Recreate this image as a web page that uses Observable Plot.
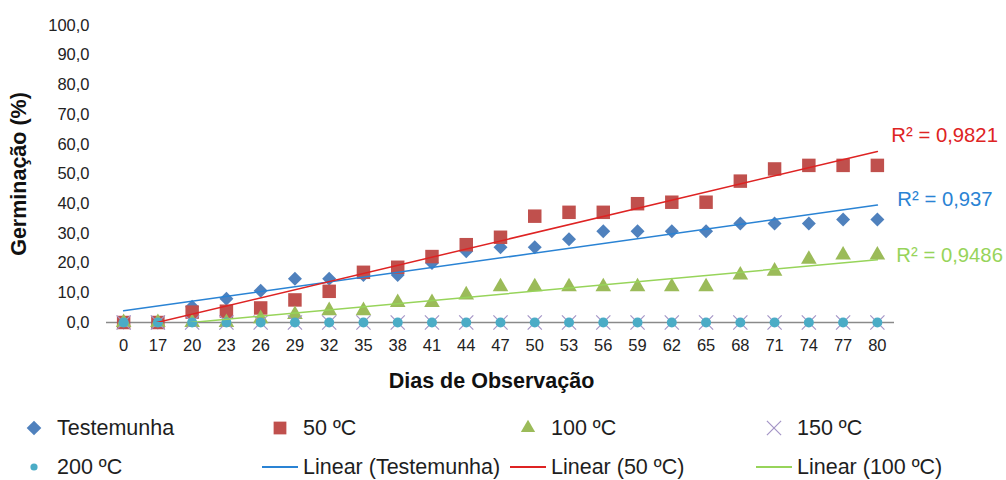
<!DOCTYPE html>
<html><head><meta charset="utf-8">
<script src="https://cdn.jsdelivr.net/npm/d3@7"></script>
<script src="https://cdn.jsdelivr.net/npm/@observablehq/plot@0.6"></script>
<style>
body{margin:0;background:#fff;font-family:"Liberation Sans",Arial,sans-serif;}
#wrap{position:relative;width:1006px;height:480px;overflow:hidden;background:#fff}
#legend{position:absolute;left:0;top:400px;width:1006px;height:80px}
.item{position:absolute;display:flex;align-items:center;font-size:21.5px;color:#1e1e1e;height:26px;white-space:nowrap}
.item svg{flex:none;margin-right:4px}
</style></head><body>
<div id="wrap"><div id="chart"></div><div id="legend"></div></div>
<script>
// ---- data ----
const days = ["0","17","20","23","26","29","32","35","38","41","44","47","50","53","56","59","62","65","68","71","74","77","80"];
const testemunha = [0,0,5.3,8,10.7,14.7,14.7,16,16,20,24,25.3,25.3,28,30.7,30.7,30.7,30.7,33.3,33.3,33.3,34.7,34.7];
const c50 = [0,0,3.5,3.8,4.9,7.6,10.5,16.9,18.6,22.2,26.2,28.7,35.8,37.1,37.1,40,40.5,40.5,47.6,51.7,52.9,52.9,52.9];
const c100 = [0,0,0,0,1.3,2.7,4,4,6.7,6.7,9.3,12,12,12,12,12,12,12,16,17.3,21.3,22.7,22.7];
const c150 = [0,0,0,0,0,0,0,0,0,0,0,0,0,0,0,0,0,0,0,0,0,0,0];
const c200 = [0,0,0,0,0,0,0,0,0,0,0,0,0,0,0,0,0,0,0,0,0,0,0];
const seriesNames = ["Testemunha","50 ºC","100 ºC","150 ºC","200 ºC"];
const trendNames = ["Linear (Testemunha)","Linear (50 ºC)","Linear (100 ºC)"];
const r2Labels = ["R² = 0,937","R² = 0,9821","R² = 0,9486"];
const xTitle = "Dias de Observação";
const yTitle = "Germinação (%)";

// ---- styles ----
const seriesValues = [testemunha, c50, c100, c150, c200];
const markerStyle = [
  {symbol:"diamond2", fill:"#4F81BD", r:6.3, lr:6.6},
  {symbol:"square", fill:"#C0504D", r:7.6, lr:7.2},
  {symbol:"triangle", fill:"#9BBB59", r:5.8, lr:5.3},
  {symbol:"times", stroke:"#A495C6", r:6.5, lr:6.5},
  {symbol:"circle", fill:"#4BACC6", r:5, lr:3.6}
];
const d3Symbols = {diamond2:d3.symbolDiamond2, square:d3.symbolSquare, triangle:d3.symbolTriangle, times:d3.symbolTimes, circle:d3.symbolCircle};
const trendColors = ["#2A83D4","#DE2323","#97D45A"];
const labelOffsets = [{dx:20,dy:-6},{dx:14,dy:-16},{dx:19,dy:-4}];

function rows(vals){ return vals.map((v,k)=>({i:k+1, v})); }
function fitEnd(vals){
  const n = vals.length, xs = vals.map((_,k)=>k+1);
  const mx = d3.mean(xs), my = d3.mean(vals);
  let sxy=0, sxx=0; xs.forEach((x,k)=>{sxy+=(x-mx)*(vals[k]-my); sxx+=(x-mx)*(x-mx);});
  const b = sxy/sxx, a = my - b*mx;
  return a + b*n;
}

const marks = [Plot.ruleY([0], {stroke:"#8a8a8a", strokeWidth:1.3})];
seriesValues.forEach((vals, s) => {
  const st = markerStyle[s];
  marks.push(Plot.dot(rows(vals), {x:"i", y:"v", symbol: st.symbol, r: st.r,
    fill: st.fill || "none", stroke: st.stroke || "none", strokeWidth: st.stroke ? 1.2 : 0}));
});
[testemunha, c50, c100].forEach((vals, s) => {
  marks.push(Plot.linearRegressionY(rows(vals), {x:"i", y:"v", ci:0, stroke: trendColors[s], strokeWidth:1.5, clip:true}));
  marks.push(Plot.text([{i: vals.length, v: fitEnd(vals), t: r2Labels[s]}],
    {x:"i", y:"v", text:"t", textAnchor:"start", fill: trendColors[s], fontSize:20.3,
     dx: labelOffsets[s].dx, dy: labelOffsets[s].dy}));
});
marks.push(Plot.text([xTitle], {frameAnchor:"bottom", textAnchor:"middle", lineAnchor:"middle", dx:-9, dy:59, fontWeight:"bold", fontSize:21.5, fill:"#111"}));
marks.push(Plot.text([yTitle], {frameAnchor:"left", textAnchor:"middle", dx:-87, rotate:-90, fontWeight:"bold", fontSize:21.5, fill:"#111"}));

const chart = Plot.plot({
  width: 1006, height: 400,
  marginLeft: 106, marginRight: 112, marginTop: 25, marginBottom: 78,
  style: {fontFamily: '"Liberation Sans", Arial, sans-serif', fontSize: "16.5px", color: "#222", background:"#fff"},
  x: {type:"linear", domain:[0.5, 23.5], ticks: d3.range(1, 24), tickFormat: i => days[i-1], tickSize:0, tickPadding:17, label:null},
  y: {domain:[0,100], ticks: d3.range(0,101,10), tickFormat: d => d.toFixed(1).replace(".", ","), tickSize:0, tickPadding:17, label:null},
  marks
});
document.getElementById("chart").appendChild(chart);

// ---- legend ----
const legend = document.getElementById("legend");
const textX = [57, 303, 551, 797];
const rowY = [28, 67];
function symbolSvg(s){
  const svg = d3.create("svg").attr("width",38).attr("height",26);
  const st = markerStyle[s];
  svg.append("path").attr("transform","translate(19,13)")
    .attr("d", d3.symbol(d3Symbols[st.symbol], Math.PI*st.lr*st.lr)())
    .attr("fill", st.fill || "none").attr("stroke", st.stroke || "none").attr("stroke-width", st.stroke ? 1.2 : 0);
  return svg.node();
}
function lineSvg(c){
  const svg = d3.create("svg").attr("width",38).attr("height",26);
  svg.append("line").attr("x1",1).attr("x2",37).attr("y1",13).attr("y2",13).attr("stroke",c).attr("stroke-width",2);
  return svg.node();
}
const entries = [];
seriesNames.forEach((n,s)=>entries.push({name:n, sym:()=>symbolSvg(s)}));
trendNames.forEach((n,s)=>entries.push({name:n, sym:()=>lineSvg(trendColors[s])}));
entries.forEach((e,k)=>{
  const div = document.createElement("div");
  div.className = "item";
  div.style.left = (textX[k%4]-42) + "px";
  div.style.top = (rowY[Math.floor(k/4)]-13) + "px";
  div.appendChild(e.sym());
  const span = document.createElement("span"); span.textContent = e.name;
  div.appendChild(span);
  legend.appendChild(div);
});
</script>
</body></html>
